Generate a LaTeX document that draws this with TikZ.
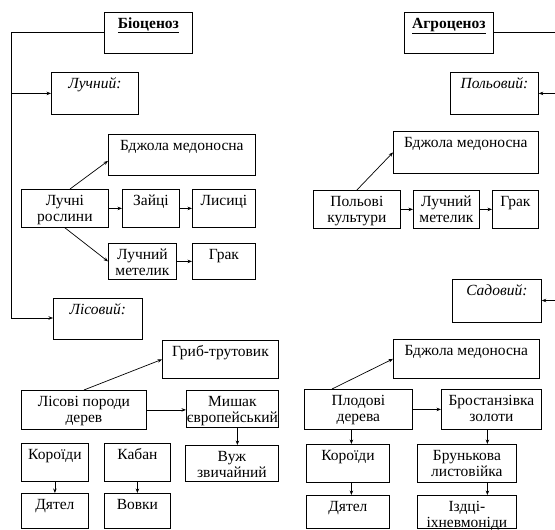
\documentclass[tikz,border=0pt]{standalone}
\usepackage{fontspec}
\setmainfont{Liberation Serif}
\newfontfamily\tnr{Liberation Serif}
\usetikzlibrary{arrows.meta,calc}
\begin{document}
\begin{tikzpicture}[x=1pt,y=-1pt,
 box/.style={draw, line width=0.8pt, inner sep=0pt, anchor=north west},
 txt/.style={anchor=north, inner sep=0pt, align=center, font=\tnr\fontsize{15.5}{16}\selectfont},
 arr/.style={-{Stealth[length=4.5pt,width=3.5pt]}, line width=0.7pt},
 ln/.style={line width=0.8pt}]
\useasboundingbox (0,0) rectangle (555,530);
\newcommand\bx[6]{\node[box, minimum width=#4pt, minimum height=#5pt] (#1) at (#2,#3) {};
 \node[txt] (#1t) at ([yshift=-4.8pt]#1.north) {\strut #6};}
% left: biocenosis
\bx{bio}{104}{12}{88}{41}{\textbf{\underline{Біоценоз}}}
\bx{luch}{51}{72}{87}{42}{\textit{Лучний:}}
\bx{beeA}{108}{134}{147}{41}{Бджола медоносна}
\bx{plants}{21}{189}{87}{38}{Лучні\\рослини}
\bx{hares}{122}{189}{57}{38}{Зайці}
\bx{foxes}{192}{189}{63}{38}{Лисиці}
\bx{mothA}{108}{243}{68}{36}{Лучний\\метелик}
\bx{rookA}{192}{243}{63}{36}{Грак}
\bx{forest}{53}{298}{89}{41}{\textit{Лісовий:}}
\bx{fungus}{162}{340}{116}{38}{Гриб-трутовик}
\bx{trees}{21}{390}{125}{39}{Лісові породи\\дерев}
\bx{mouse}{186}{390}{92}{37}{Мишак\\європейський}
\bx{snake}{185}{445}{93}{36}{Вуж\\звичайний}
\bx{barkA}{21}{443}{67}{38}{Короїди}
\bx{boar}{104}{443}{66}{38}{Кабан}
\bx{wpA}{21}{493}{67}{35}{Дятел}
\bx{wolves}{104}{493}{66}{35}{Вовки}
% right: agrocenosis
\bx{agro}{404}{12}{89}{41}{\textbf{\underline{Агроценоз}}}
\bx{field}{450}{72}{88}{42}{\textit{Польовий:}}
\bx{beeB}{393}{131}{145}{42}{Бджола медоносна}
\bx{crops}{313}{190}{87}{38}{Польові\\культури}
\bx{mothB}{413}{190}{66}{38}{Лучний\\метелик}
\bx{rookB}{492}{190}{46}{38}{Грак}
\bx{garden}{452}{279}{89}{43}{\textit{Садовий:}}
\bx{beeC}{393}{339}{146}{39}{Бджола медоносна}
\bx{fruit}{304}{389}{108}{40}{Плодові\\дерева}
\bx{gold}{441}{389}{100}{40}{Бростанзівка\\золоти}
\bx{barkB}{306}{444}{83}{38}{Короїди}
\bx{leaf}{417}{444}{99}{38}{Брунькова\\листовійка}
\bx{wpB}{306}{495}{83}{33}{Дятел}
\bx{ichn}{417}{495}{99}{33}{Іздці-\\іхневмоніди}
% trunk lines
\coordinate (lt) at (11,32);
\coordinate (lb) at (11,318);
\draw[ln] (bio.west |- lt) -- (lt) -- (lb);
\draw[arr] (lt |- luch.west) -- (luch.west);
\draw[arr] (lb) -- (lb -| forest.west);
\coordinate (rt) at (555,32);
\coordinate (rb) at (555,300.5);
\draw[ln] (agro.east |- rt) -- (rt) -- (rb);
\draw[arr] (rt |- field.east) -- (field.east);
\draw[arr] (rb) -- (rb -| garden.east);
% meadow chain
\draw[arr] ([xshift=49pt]plants.north west) -- ([yshift=-6pt]beeA.west);
\draw[arr] (plants.east) -- (plants.east -| hares.west);
\draw[arr] (hares.east) -- (hares.east -| foxes.west);
\draw[arr] (plants.south) -- (mothA.west);
\draw[arr] (mothA.east) -- (mothA.east -| rookA.west);
% forest chain
\draw[arr] (trees.north) -- (fungus.west);
\draw[arr] (trees.east) -- (trees.east -| mouse.west);
\draw[arr] ([xshift=5pt]mouse.south) -- ([xshift=5pt]mouse.south |- snake.north);
\draw[arr] (barkA.south) -- (wpA.north);
\draw[arr] (boar.south) -- (wolves.north);
% field chain
\draw[arr] (crops.north) -- (beeB.west);
\draw[arr] (crops.east) -- (crops.east -| mothB.west);
\draw[arr] (mothB.east) -- (mothB.east -| rookB.west);
% garden chain
\draw[arr] ([xshift=28pt]fruit.north west) -- (beeC.west);
\draw[arr] (fruit.east) -- (fruit.east -| gold.west);
\draw[arr] ([xshift=3.5pt]barkB.north |- fruit.south) -- ([xshift=3.5pt]barkB.north);
\draw[arr] ([xshift=20.5pt]leaf.north |- gold.south) -- ([xshift=20.5pt]leaf.north);
\draw[arr] ([xshift=3.5pt]barkB.south) -- ([xshift=3.5pt]wpB.north);
\draw[arr] ([xshift=20.5pt]leaf.south) -- ([xshift=20.5pt]ichn.north);
\end{tikzpicture}
\end{document}
